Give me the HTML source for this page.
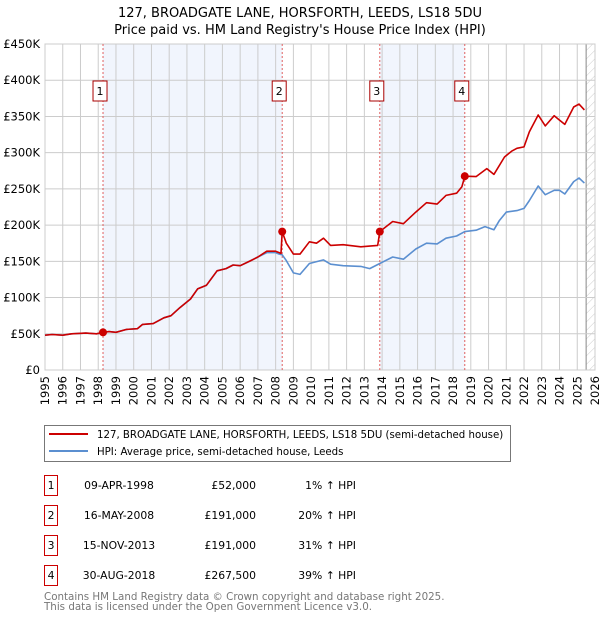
<!DOCTYPE html>
<html><head><meta charset="utf-8"><style>
body{margin:0;background:#fff;}
svg text{font-family:"DejaVu Sans","Liberation Sans",sans-serif;}
</style></head><body>
<svg width="600" height="620" xmlns="http://www.w3.org/2000/svg">
<defs><pattern id="hatch" width="6" height="6" patternUnits="userSpaceOnUse" patternTransform="rotate(45)"><line x1="0" y1="0" x2="0" y2="6" stroke="#ccc" stroke-width="1"/></pattern></defs>
<text x="300" y="17" text-anchor="middle" font-size="13">127, BROADGATE LANE, HORSFORTH, LEEDS, LS18 5DU</text>
<text x="300" y="34" text-anchor="middle" font-size="13">Price paid vs. HM Land Registry's House Price Index (HPI)</text>
<g id="plot"></g>
<g>
<rect x="44.5" y="425.5" width="466" height="36" fill="#fff" stroke="#777"/>
<line x1="49" y1="434" x2="88" y2="434" stroke="#cc0000" stroke-width="2"/>
<text x="97" y="438" font-size="10.2">127, BROADGATE LANE, HORSFORTH, LEEDS, LS18 5DU (semi-detached house)</text>
<line x1="49" y1="451" x2="88" y2="451" stroke="#5b8fd0" stroke-width="2"/>
<text x="97" y="455" font-size="10.2">HPI: Average price, semi-detached house, Leeds</text>
</g>
<g id="table" font-size="10.8"></g>
<text x="44" y="600" font-size="10.3" fill="#777">Contains HM Land Registry data © Crown copyright and database right 2025.</text>
<text x="44" y="610" font-size="10.3" fill="#777">This data is licensed under the Open Government Licence v3.0.</text>
</svg>
<script>
const hpiYears=[1995,1995.4,1996,1996.5,1997.3,1997.9,1998.27,1998.6,1999,1999.6,2000.2,2000.5,2001.1,2001.7,2002.1,2002.6,2003.2,2003.6,2004.1,2004.7,2005.2,2005.6,2006,2006.6,2007,2007.5,2008,2008.2,2008.37,2008.6,2009,2009.37,2009.9,2010.7,2011.1,2011.8,2012.8,2013.3,2013.87,2014.6,2015.2,2015.9,2016.5,2017.1,2017.6,2018.2,2018.66,2019.3,2019.8,2020.3,2020.6,2021,2021.6,2022,2022.3,2022.8,2023.2,2023.7,2024,2024.3,2024.8,2025.1,2025.4];
const hpiValues=[48,49,48,50,51,50,51.5,53,52,56,57,63,64,72,75,86,98,112,117,137,140,145,144,151,156,162,162,160,159,151,134,132,147,152,146,144,143,140,147,156,153,167,175,174,182,185,191,193,198,193.5,206,218,220,223,234,254,242,248,248,243,260,265,258];
const ppYears=[1995,1995.4,1996,1996.5,1997.3,1997.9,1998.27,1998.6,1999,1999.6,2000.2,2000.5,2001.1,2001.7,2002.1,2002.6,2003.2,2003.6,2004.1,2004.7,2005.2,2005.6,2006,2006.6,2007,2007.5,2008,2008.3,2008.37,2008.6,2009,2009.37,2009.9,2010.3,2010.7,2011.1,2011.8,2012.8,2013.3,2013.75,2013.87,2014.6,2015.2,2015.9,2016.5,2017.1,2017.6,2018.2,2018.5,2018.66,2019.3,2019.9,2020.3,2020.9,2021.3,2021.6,2022,2022.3,2022.8,2023.2,2023.7,2024,2024.3,2024.8,2025.1,2025.4];
const ppValues=[48,49,48,50,51,50,52,53,52,56,57,63,64,72,75,86,98,112,117,137,140,145,144,151,156,164,164,161,191,175,160,160,177,175,182,172,173,170,171,172,191,205,202,218,231,229,241,244,253,267.5,267,278,270,294,302,306,308,329,352,337,351,345,339,363,367,359];
const saleYears=[1998.27,2008.37,2013.87,2018.66];
const saleValues=[52,191,191,267.5];
const saleLabels=["1","2","3","4"];
const saleDates=["09-APR-1998","16-MAY-2008","15-NOV-2013","30-AUG-2018"];
const salePrices=["£52,000","£191,000","£191,000","£267,500"];
const salePcts=["1% ↑ HPI","20% ↑ HPI","31% ↑ HPI","39% ↑ HPI"];
const yTicks=[0,50,100,150,200,250,300,350,400,450];
const yTickLabels=["£0","£50K","£100K","£150K","£200K","£250K","£300K","£350K","£400K","£450K"];
const xTicks=[1995,1996,1997,1998,1999,2000,2001,2002,2003,2004,2005,2006,2007,2008,2009,2010,2011,2012,2013,2014,2015,2016,2017,2018,2019,2020,2021,2022,2023,2024,2025,2026];
const dataEnd=2025.5;

const NS="http://www.w3.org/2000/svg";
const L=45,R=595,T=44,B=370;
const X=y=>L+(y-1995)/(2026-1995)*(R-L);
const Y=v=>B-v/450*(B-T);
function mk(tag,attrs,parent){const e=document.createElementNS(NS,tag);for(const k in attrs)e.setAttribute(k,attrs[k]);parent.appendChild(e);return e;}
const g=document.getElementById('plot');
for(let i=0;i<saleYears.length;i+=2){
 const r=mk('rect',{x:X(saleYears[i]),y:T,width:X(saleYears[i+1])-X(saleYears[i]),height:B-T,fill:'#eef3fc',opacity:0.8},g);
 
 
}
const hr=mk('rect',{x:X(dataEnd),y:T,width:R-X(dataEnd),height:B-T,fill:'url(#hatch)'},g);


mk('line',{x1:X(dataEnd),y1:T,x2:X(dataEnd),y2:B,stroke:'#888'},g);
yTicks.forEach((v,i)=>{
 mk('line',{x1:L,x2:R,y1:Y(v),y2:Y(v),stroke:'#ccc'},g);
 const t=mk('text',{x:40,y:Y(v)+4,'text-anchor':'end','font-size':11.5},g);
 t.textContent=yTickLabels[i];
 
 
});
xTicks.forEach(y=>{
 mk('line',{x1:X(y),x2:X(y),y1:T,y2:B,stroke:'#ccc'},g);
 const t=mk('text',{x:0,y:0,'text-anchor':'end','font-size':11.5,transform:`translate(${X(y)+4},${B+6}) rotate(-90)`},g);
 t.textContent=y;
 
 
});
mk('rect',{x:L,y:T,width:R-L,height:B-T,fill:'none',stroke:'#ccc'},g);
saleYears.forEach((y,i)=>{
 const l=mk('line',{x1:X(y),x2:X(y),y1:T,y2:B,stroke:'#e06060','stroke-dasharray':'2,2'},g);
 
 
 const bx=X(y)-3;
 mk('rect',{x:bx-7,y:81,width:14,height:20,fill:'#fff',stroke:'#aa0000'},g);
 const t=mk('text',{x:bx,y:95,'text-anchor':'middle','font-size':11},g);
 t.textContent=saleLabels[i];
 
 
});
function line(xs,vs,color,name){
 const p=mk('path',{d:xs.map((x,i)=>(i?'L':'M')+X(x).toFixed(1)+','+Y(vs[i]).toFixed(1)).join(''),fill:'none',stroke:color,'stroke-width':1.6,'stroke-linejoin':'round'},g);
 
 
}
line(hpiYears,hpiValues,'#5b8fd0','hpi-line');
line(ppYears,ppValues,'#cc0000','price-paid-line');
saleYears.forEach((y,i)=>{
 const c=mk('circle',{cx:X(y),cy:Y(saleValues[i]),r:4,fill:'#cc0000'},g);
 
 
});
const tb=document.getElementById('table');
saleLabels.forEach((s,i)=>{
 const y0=475+i*30;
 mk('rect',{x:44.5,y:y0+0.5,width:13,height:20,fill:'#fff',stroke:'#cc0000'},tb);
 const a=mk('text',{x:51,y:y0+14,'text-anchor':'middle'},tb);a.textContent=s;
 
 
 const d=mk('text',{x:119,y:y0+14,'text-anchor':'middle'},tb);d.textContent=saleDates[i];
 
 
 const p=mk('text',{x:256,y:y0+14,'text-anchor':'end'},tb);p.textContent=salePrices[i];
 
 
 const c=mk('text',{x:356,y:y0+14,'text-anchor':'end'},tb);c.textContent=salePcts[i];
 
 
});
</script>
</body></html>
